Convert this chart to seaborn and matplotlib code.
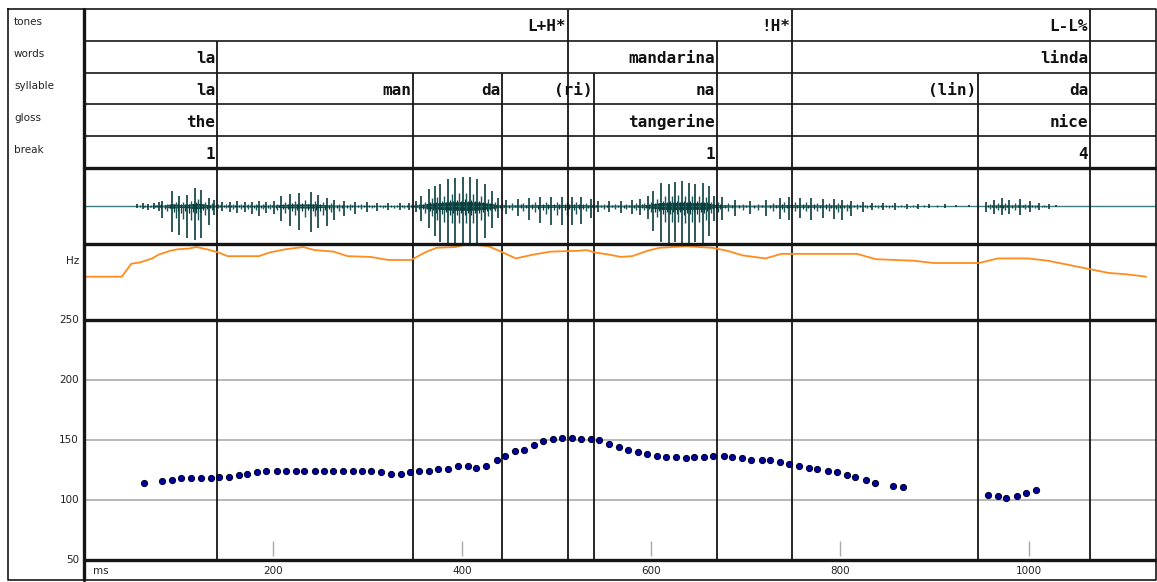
import matplotlib
matplotlib.use("Agg")
import matplotlib.pyplot as plt
import matplotlib.transforms as mtransforms
import seaborn as sns
import numpy as np
import pandas as pd

# ---------------- data ----------------
tones_end = [512.2, 749.2, 1064.6]
tones_lab = ["L+H*", "!H*", "L-L%"]
words_end = [140.7, 669.8, 1064.6]
words_lab = ["la", "mandarina", "linda"]
syll_end = [140.7, 348.1, 442.3, 539.7, 669.8, 946.0, 1064.6]
syll_lab = ["la", "man", "da", "(ri)", "na", "(lin)", "da"]
gloss_end = [140.7, 669.8, 1064.6]
gloss_lab = ["the", "tangerine", "nice"]
break_end = [140.7, 669.8, 1064.6]
break_lab = ["1", "1", "4"]
tier_names = ["tones", "words", "syllable", "gloss", "break"]

f0_ms = [63, 83, 93, 103, 113, 124, 134, 143, 153, 164,
         173, 183, 193, 204, 214, 224, 233, 244, 254, 264,
         274, 285, 294, 304, 314, 325, 335, 345, 354, 365,
         375, 385, 396, 406, 415, 425, 437, 446, 456, 466,
         476, 486, 496, 506, 516, 526, 536, 545, 556, 566,
         576, 586, 596, 606, 616, 626, 637, 646, 656, 666,
         677, 686, 696, 706, 717, 726, 736, 746, 757, 767,
         776, 787, 797, 807, 816, 827, 837, 856, 867,
         957, 967, 976, 987, 997, 1007]
f0_hz = [114, 116, 117, 118, 118, 118, 118, 119, 119, 121,
         122, 123, 124, 124, 124, 124, 124, 124, 124, 124,
         124, 124, 124, 124, 123, 122, 122, 123, 124, 124,
         126, 126, 128, 128, 127, 128, 133, 137, 141, 142,
         146, 149, 151, 152, 152, 151, 151, 150, 147, 144,
         142, 140, 138, 137, 136, 136, 135, 136, 136, 137,
         137, 136, 135, 133, 133, 133, 132, 130, 128, 127,
         126, 124, 123, 121, 119, 117, 114, 112, 111,
         104, 103, 102, 103, 106, 108]

pitch_ms = [0, 0, 40, 50, 60, 72, 79, 91, 99, 111,
            119, 130, 142, 152, 166, 185, 197, 213, 232, 244,
            264, 279, 303, 322, 346, 361, 373, 393, 406, 428,
            443, 457, 475, 494, 522, 532, 540, 556, 568, 580,
            596, 609, 637, 665, 681, 697, 721, 738, 766, 818,
            838, 878, 899, 947, 967, 999, 1020, 1044, 1064, 1084,
            1104, 1124]
pitch_lv = [0, 57, 57, 74, 76, 81, 86, 91, 93, 94,
            96, 93, 89, 84, 84, 84, 89, 93, 96, 92,
            90, 84, 83, 79, 79, 89, 95, 96, 100, 97,
            89, 81, 86, 90, 91, 92, 89, 86, 83, 84,
            91, 95, 97, 95, 91, 85, 81, 87, 87, 87,
            80, 78, 75, 75, 81, 81, 78, 72, 67, 62,
            60, 57]

wave_ms = [56, 62, 68, 74, 79, 83, 93, 101, 109, 117,
           124, 132, 138, 146, 154, 162, 170, 178, 185, 193,
           201, 208, 218, 228, 240, 248, 257, 265, 275, 287,
           299, 310, 322, 334, 344, 351, 357, 365, 371, 377,
           385, 393, 401, 408, 416, 424, 432, 438, 447, 459,
           471, 483, 494, 506, 516, 526, 536, 544, 556, 568,
           580, 588, 597, 602, 611, 619, 625, 633, 640, 647,
           655, 661, 667, 675, 689, 705, 722, 736, 746, 758,
           769, 782, 794, 802, 812, 824, 834, 846, 858, 871,
           883, 894, 911, 923, 937, 955, 963, 971, 979, 991,
           1001, 1011, 1021, 1029]
wave_up = [2, 3, 2, 3, 4, 5, 15, 10, 11, 18,
           16, 8, 6, 4, 4, 5, 4, 4, 5, 4,
           5, 10, 12, 13, 14, 11, 8, 6, 5, 4,
           4, 3, 3, 3, 3, 5, 10, 17, 20, 22,
           27, 28, 29, 29, 27, 22, 15, 8, 6, 7,
           8, 9, 9, 9, 9, 9, 7, 5, 5, 5,
           6, 7, 10, 15, 23, 22, 24, 25, 23, 22,
           23, 20, 10, 9, 6, 5, 6, 8, 9, 8,
           8, 7, 7, 6, 5, 4, 3, 3, 3, 2,
           2, 2, 2, 1, 1, 4, 6, 8, 6, 7,
           5, 3, 2, 1]
wave_dn = [2, 3, 4, 3, 5, 12, 26, 29, 32, 34,
           32, 19, 9, 5, 6, 7, 6, 8, 10, 7,
           8, 15, 20, 24, 26, 22, 20, 14, 10, 8,
           6, 5, 4, 4, 4, 6, 15, 22, 30, 36,
           38, 38, 38, 38, 38, 32, 22, 12, 8, 10,
           14, 17, 19, 19, 19, 18, 12, 6, 6, 7,
           8, 9, 13, 25, 36, 38, 36, 38, 38, 36,
           38, 30, 15, 14, 10, 8, 10, 13, 14, 12,
           14, 12, 13, 14, 10, 6, 4, 4, 4, 3,
           3, 2, 2, 1, 1, 6, 8, 9, 8, 9,
           6, 4, 3, 1]

hz_ticks = [250, 200, 150, 100, 50]
hz_grid = [100, 150, 200]
ms_ticks = [200, 400, 600, 800, 1000]

# ---------------- layout ----------------
sns.set_style("white")
plt.rcParams["font.family"] = ["DejaVu Sans"]

W, H = 1157, 582
fig = plt.figure(figsize=(W / 100, H / 100), dpi=100)
fig.patch.set_facecolor("white")

X0, X1 = 84, 1156
PX_PER_MS = 0.945
T_MAX = (X1 - X0) / PX_PER_MS
INK = "#161616"
GRID = "#b8b8b8"
WAVE = "#0b3d3d"

def add_ax(y0, y1):
    ax = fig.add_axes([X0 / W, 1 - y1 / H, (X1 - X0) / W, (y1 - y0) / H])
    ax.set_xlim(0, T_MAX)
    ax.set_axis_off()
    return ax

all_bounds = sorted(set(tones_end + words_end + syll_end + gloss_end + break_end))

# tiers
ax_t = add_ax(9, 168)
ax_t.set_ylim(5, 0)
tiers = [(tones_end, tones_lab), (words_end, words_lab), (syll_end, syll_lab),
         (gloss_end, gloss_lab), (break_end, break_lab)]
cum = set()
for i, (ends, labs) in enumerate(tiers):
    cum |= set(ends)
    ax_t.vlines(sorted(cum), i, i + 1, color=INK, lw=1.3)
    if i > 0:
        ax_t.axhline(i, color=INK, lw=1.2)
    for e, lab in zip(ends, labs):
        ax_t.text(e - 2.0, i + 0.56, lab, ha="right", va="center",
                  fontfamily="DejaVu Sans Mono", fontweight="bold",
                  fontsize=11.5, color="#111111")

# waveform
ax_w = add_ax(168, 244)
ax_w.set_ylim(-38, 38)
ax_w.axhline(0, color="#3f7f7f", lw=1.0)
wt = np.array(wave_ms, float)
wu = np.array(wave_up, float)
wd = np.array(wave_dn, float)
mid_t = (wt[:-1] + wt[1:]) / 2
mid_u = np.minimum(wu[:-1], wu[1:]) * 0.45
mid_d = np.minimum(wd[:-1], wd[1:]) * 0.45
q1_t = wt[:-1] * 0.75 + wt[1:] * 0.25
q3_t = wt[:-1] * 0.25 + wt[1:] * 0.75
core = np.minimum(wu, wd) * 0.15
ax_w.fill_between(wt, -core, core, color=WAVE, lw=0)
ax_w.vlines(q1_t, -mid_d * 0.5, mid_u * 0.5, color=WAVE, lw=0.9)
ax_w.vlines(q3_t, -mid_d * 0.4, mid_u * 0.4, color=WAVE, lw=0.9)
ax_w.vlines(mid_t, -mid_d, mid_u, color="#1d5656", lw=1.0)
ax_w.vlines(wt, -wd, wu, color=WAVE, lw=1.2)
ax_w.vlines(all_bounds, -38, 38, color=INK, lw=1.3)

# pitch contour panel
ax_p = add_ax(244, 320)
ax_p.set_ylim(0, 100)
ax_p.vlines(all_bounds, 0, 100, color=INK, lw=1.3)
sns.lineplot(x=pitch_ms, y=pitch_lv, sort=False, estimator=None,
             color="#ff8c1e", lw=1.3, ax=ax_p)
for ln in ax_p.lines:
    ln.set_clip_on(False)
ax_p.set_axis_off()

# F0 panel
ax_f = add_ax(320, 560)
ax_f.set_ylim(50, 250)
for g in hz_grid:
    ax_f.axhline(g, color=GRID, lw=1.4, zorder=1)
ax_f.vlines(all_bounds, 50, 250, color=INK, lw=1.3, zorder=2)
ax_f.vlines(ms_ticks, 53, 66, color="#a8a8a8", lw=1.0, zorder=2)
df = pd.DataFrame({"ms": f0_ms, "hz": f0_hz})
sns.scatterplot(data=df, x="ms", y="hz", ax=ax_f, s=20, color="#00009c",
                edgecolor="#000020", linewidth=0.7, zorder=3)
ax_f.set_axis_off()

# ms row
ax_m = add_ax(560, 580)
ax_m.set_ylim(0, 1)
for t in ms_ticks:
    ax_m.text(t, 0.45, str(t), ha="center", va="center", fontsize=7.5, color="#222222")
ax_m.text(9, 0.45, "ms", ha="left", va="center", fontsize=7.5, color="#222222")

# overlay for frame and left labels
ov = fig.add_axes([0, 0, 1, 1], zorder=10)
ov.set_xlim(0, W)
ov.set_ylim(H, 0)
ov.set_axis_off()
ov.patch.set_alpha(0)
ov.plot([8, 1156, 1156, 8, 8], [9, 9, 580, 580, 9], color=INK, lw=1.2)
ov.plot([84, 84], [9, 580], color=INK, lw=2.4)
for yy in [168, 244, 320, 560]:
    ov.plot([84, 1156], [yy, yy], color=INK, lw=2.4)

tr_t = mtransforms.blended_transform_factory(ov.transData, ax_t.transData)
for i, nm in enumerate(tier_names):
    ov.text(14, i + 0.42, nm, transform=tr_t, ha="left", va="center",
            fontsize=7.5, color="#222222")

tr_f = mtransforms.blended_transform_factory(ov.transData, ax_f.transData)
for v in hz_ticks:
    ov.text(79, v, str(v), transform=tr_f, ha="right", va="center",
            fontsize=7.5, color="#222222")
tr_p = mtransforms.blended_transform_factory(ov.transData, ax_p.transData)
ov.text(79, 77, "Hz", transform=tr_p, ha="right", va="center",
        fontsize=7.5, color="#222222")

fig.savefig("out.png", dpi=100, facecolor="white")
